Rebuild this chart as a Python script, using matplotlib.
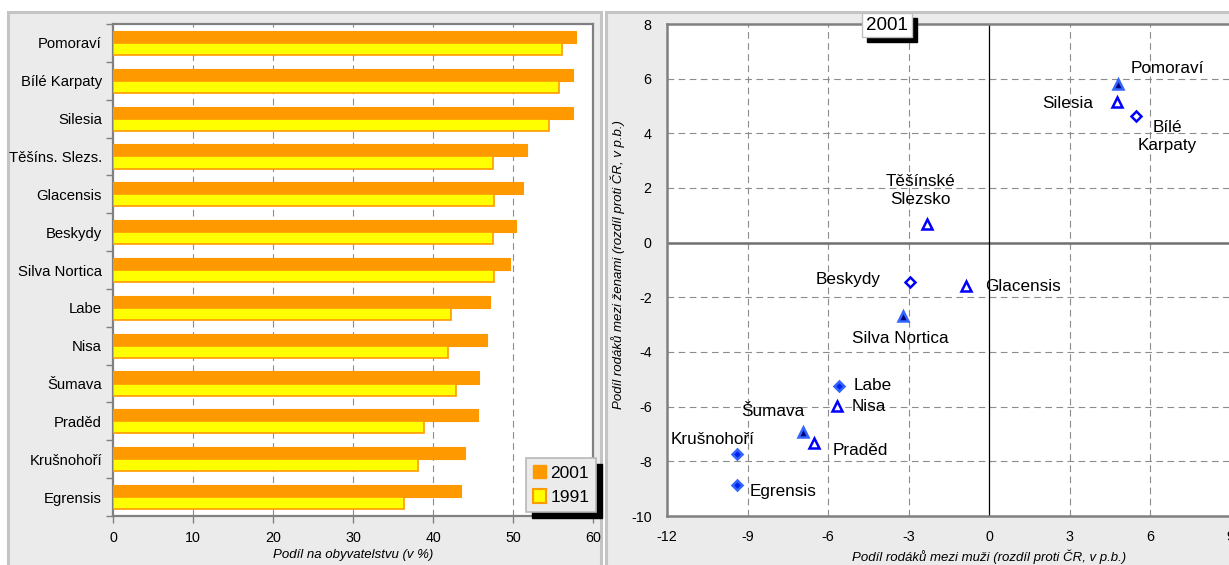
import matplotlib
matplotlib.use("Agg")
import matplotlib.pyplot as plt
from matplotlib.patches import Rectangle
from matplotlib.patches import Patch
import numpy as np

plt.rcParams['font.family'] = ['Liberation Sans', 'DejaVu Sans']

# ---------------- data ----------------
regions = ['Pomoraví', 'Bílé Karpaty', 'Silesia', 'Těšíns. Slezs.', 'Glacensis',
           'Beskydy', 'Silva Nortica', 'Labe', 'Nisa', 'Šumava', 'Praděd',
           'Krušnohoří', 'Egrensis']
share_2001 = [57.9, 57.5, 57.5, 51.75, 51.25, 50.4, 49.6, 47.1, 46.75, 45.75, 45.6, 44.0, 43.5]
share_1991 = [56.1, 55.75, 54.5, 47.5, 47.6, 47.5, 47.6, 42.25, 41.9, 42.9, 38.9, 38.1, 36.4]
bar_xticks = [0, 10, 20, 30, 40, 50, 60]

sc_names = ['Pomoraví', 'Silesia', 'Bílé\nKarpaty', 'Těšínské\nSlezsko', 'Beskydy',
            'Glacensis', 'Silva Nortica', 'Labe', 'Nisa', 'Šumava', 'Praděd',
            'Krušnohoří', 'Egrensis']
diff_men = [4.81, 4.77, 5.48, -2.31, -2.94, -0.86, -3.2, -5.59, -5.67, -6.93, -6.52, -9.39, -9.39]
diff_women = [5.79, 5.16, 4.62, 0.70, -1.43, -1.58, -2.67, -5.24, -5.97, -6.92, -7.33, -7.73, -8.86]
marker_kind = ['ftri', 'otri', 'odia', 'otri', 'odia', 'otri', 'ftri', 'fdia', 'otri',
               'ftri', 'otri', 'fdia', 'fdia']
sc_xticks = [-12, -9, -6, -3, 0, 3, 6, 9, 12]
sc_yticks = [-10, -8, -6, -4, -2, 0, 2, 4, 6, 8]
panel_title = '2001'

# label offsets (pixels)
lab_off = [(49, 16), (-49, -2), (31, -20), (-7, 33), (-62, 2), (57, -1), (-3, -23),
           (34, 0), (32, -1), (-30, 20), (46, -7), (-24, 14), (46, -7)]

W, H = 1229, 565
fig = plt.figure(figsize=(W / 100, H / 100), dpi=100)
fig.patch.set_facecolor('white')

def px(x0, y0, x1, y1):
    """pixel box (top-left origin) -> fig fraction rect"""
    return [x0 / W, 1 - y1 / H, (x1 - x0) / W, (y1 - y0) / H]

# panels
for (x0, x1) in [(8, 601), (606, 1260)]:
    fig.patches.append(Rectangle((x0 / W, -0.05), (x1 - x0) / W, 1.05 - 12 / H,
                                 transform=fig.transFigure, facecolor='#ebebeb',
                                 edgecolor='#c4c4c4', linewidth=2.2, zorder=-5))

GRID = '#8c8c8c'
FRAME = '#808080'

# ---------------- left: bars ----------------
ax = fig.add_axes(px(113, 24, 593, 516))
ax.set_zorder(1)
ax.set_facecolor('white')
n = len(regions)
ypos = np.arange(n)[::-1].astype(float)
h = 0.32
ax.barh(ypos + h / 2, share_2001, height=h, color='#ff9900', edgecolor='#ff9900',
        linewidth=0.8, zorder=3)
ax.barh(ypos - h / 2, share_1991, height=h, color='#ffff00', edgecolor='#ff9900',
        linewidth=1.2, zorder=3)
ax.set_xlim(0, 60)
ax.set_ylim(-0.5, n - 0.5)
ax.set_xticks(bar_xticks)
ax.set_xticklabels([str(t) for t in bar_xticks], fontsize=10.3)
ax.set_yticks(ypos)
ax.set_yticklabels(regions, fontsize=10.7)
ax.set_yticks(np.arange(-0.5, n, 1.0), minor=True)
ax.tick_params(axis='y', which='major', length=0, pad=8)
ax.tick_params(axis='y', which='minor', length=5, color=FRAME, width=1)
ax.tick_params(axis='x', which='major', length=5, color=FRAME, width=1, pad=6)
for x in bar_xticks[1:-1]:
    ax.axvline(x, color=GRID, linestyle=(0, (6, 4)), linewidth=0.8, zorder=1)
for s in ax.spines.values():
    s.set_color(FRAME)
    s.set_linewidth(1.6)
ax.set_xlabel('Podíl na obyvatelstvu (v %)', fontsize=9.5, style='italic', labelpad=3)

handles = [Patch(facecolor='#ff9900', edgecolor='#ff9900'),
           Patch(facecolor='#ffff00', edgecolor='#ff9900', linewidth=1.5)]
leg = ax.legend(handles, ['2001', '1991'], loc='lower left',
                bbox_to_anchor=(526 / W, 1 - 512 / H), bbox_transform=fig.transFigure,
                fontsize=12.5, frameon=True, fancybox=False, facecolor='#ebebeb',
                edgecolor='#b8b8b8', framealpha=1, handlelength=0.75, handleheight=0.8,
                handletextpad=0.25, borderpad=0.4, labelspacing=0.5, borderaxespad=0)
leg.set_zorder(10)
leg.get_frame().set_linewidth(1.2)

# ---------------- right: scatter ----------------
ax2 = fig.add_axes(px(667, 24, 1311, 516))
ax2.set_zorder(1)
ax2.set_facecolor('white')
ax2.set_xlim(-12, 12)
ax2.set_ylim(-10, 8)
for x in sc_xticks[1:-1]:
    if x != 0:
        ax2.axvline(x, color=GRID, linestyle=(0, (6, 4)), linewidth=0.8, zorder=1)
for y in sc_yticks[1:-1]:
    if y != 0:
        ax2.axhline(y, color=GRID, linestyle=(0, (6, 4)), linewidth=0.8, zorder=1)
ax2.axhline(0, color='#707070', linewidth=1.8, zorder=2)
ax2.axvline(0, color='black', linewidth=0.9, zorder=2)

styles = {
    'ftri': dict(marker='^', markerfacecolor='#000080', markeredgecolor='#3366ff', markersize=7, markeredgewidth=1.8),
    'otri': dict(marker='^', markerfacecolor='white', markeredgecolor='#0000ff', markersize=7, markeredgewidth=1.8),
    'odia': dict(marker='D', markerfacecolor='white', markeredgecolor='#0000ff', markersize=5.5, markeredgewidth=1.8),
    'fdia': dict(marker='D', markerfacecolor='#0022ee', markeredgecolor='#3366ff', markersize=5.5, markeredgewidth=1.8),
}
for xm, yw, k, name, (dx, dy) in zip(diff_men, diff_women, marker_kind, sc_names, lab_off):
    ax2.plot([xm], [yw], linestyle='none', zorder=5, **styles[k])
    ax2.annotate(name, (xm, yw), xytext=(dx, dy), textcoords='offset pixels',
                 ha='center', va='center', fontsize=12.3, linespacing=1.25, zorder=6)

ax2.set_xticks(sc_xticks)
ax2.set_xticklabels([str(t) for t in sc_xticks], fontsize=10.3)
ax2.set_yticks(sc_yticks)
ax2.set_yticklabels([str(t) for t in sc_yticks], fontsize=10.3)
ax2.tick_params(axis='both', length=0, pad=10)
ax2.tick_params(axis='y', pad=11)
for s in ax2.spines.values():
    s.set_color(FRAME)
    s.set_linewidth(1.8)
ax2.set_xlabel('Podíl rodáků mezi muži (rozdíl proti ČR, v p.b.)', fontsize=9.5,
               style='italic', labelpad=4)
fig.text(618 / W, 1 - 265 / H, 'Podíl rodáků mezi ženami (rozdíl proti ČR, v p.b.)',
         rotation=90, ha='center', va='center', fontsize=9.5, style='italic')

# title box with black shadow
fig.patches.append(Rectangle((867 / W, 1 - 42 / H), 50 / W, 24 / H, transform=fig.transFigure,
                             facecolor='black', edgecolor='black', zorder=20))
fig.patches.append(Rectangle((862 / W, 1 - 37 / H), 50 / W, 24 / H, transform=fig.transFigure,
                             facecolor='white', edgecolor='#c0c0c0', linewidth=1, zorder=21))
fig.text(887 / W, 1 - 25.5 / H, panel_title, ha='center', va='center', fontsize=13.5, zorder=22)

# legend shadow (inside the bar axes, just under the legend)
fig.canvas.draw()
bb = leg.get_window_extent()
shadow = Rectangle(((bb.x0 + 6) / W, (bb.y0 - 6) / H), bb.width / W, bb.height / H,
                   transform=fig.transFigure, facecolor='black', edgecolor='black',
                   zorder=9)
ax.add_patch(shadow)
shadow.set_clip_on(False)

fig.savefig('out.png', dpi=100)
